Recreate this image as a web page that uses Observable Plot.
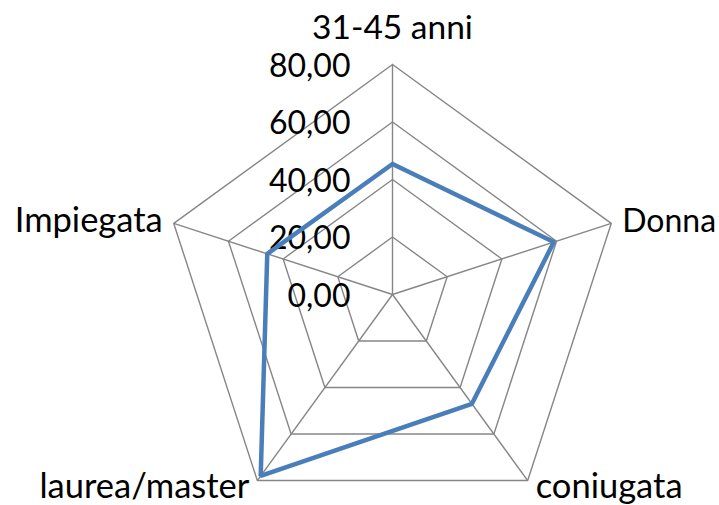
<!DOCTYPE html>
<html>
<head>
<meta charset="utf-8">
<script src="https://cdn.jsdelivr.net/npm/d3@7"></script>
<script src="https://cdn.jsdelivr.net/npm/@observablehq/plot@0.6"></script>
<style>
  html, body { margin: 0; padding: 0; background: #ffffff; }
  #chart svg { display: block; }
</style>
</head>
<body>
<div id="chart"></div>
<script>
// ---- data ----
const categories = ["31-45 anni", "Donna", "coniugata", "laurea/master", "Impiegata"];
const values = [45.4, 59, 47, 78, 45.8];
const tickValues = [0, 20, 40, 60, 80];
const tickLabels = ["0,00", "20,00", "40,00", "60,00", "80,00"];

// ---- geometry helpers (polar -> cartesian in data units) ----
const n = categories.length;
const maxV = 80;
const ang = i => (i * 2 * Math.PI) / n;
const px = (i, r) => r * Math.sin(ang(i));
const py = (i, r) => r * Math.cos(ang(i));

// grid polygons
const gridRings = tickValues.filter(t => t > 0).flatMap(t =>
  d3.range(n + 1).map(k => ({ level: t, x: px(k % n, t), y: py(k % n, t) }))
);
// spokes
const spokes = categories.map((c, i) => ({ x1: 0, y1: 0, x2: px(i, maxV), y2: py(i, maxV) }));
// series
const series = d3.range(n + 1).map(k => ({ name: categories[k % n], x: px(k % n, values[k % n]), y: py(k % n, values[k % n]) }));
// tick labels along top axis
const tickData = tickValues.map((t, i) => ({ x: 0, y: t, label: tickLabels[i] }));
// category labels
const catData = categories.map((c, i) => ({ name: c, i, x: px(i, maxV), y: py(i, maxV) }));

const font = "Lato, 'Open Sans', sans-serif";
const labelStyle = [
  { textAnchor: "middle", dx: 0, dy: -26, size: 33.5 },
  { textAnchor: "start", dx: 11, dy: 9, size: 32 },
  { textAnchor: "start", dx: 8, dy: 17, size: 34.5 },
  { textAnchor: "end", dx: -8, dy: 17, size: 34.5 },
  { textAnchor: "end", dx: -11, dy: 9, size: 34.5 }
];

const W = 719, H = 505;
const cx = 392, cy = 294, k = 230 / maxV;

const chart = Plot.plot({
  width: W,
  height: H,
  margin: 0,
  x: { type: "linear", domain: [-cx / k, (W - cx) / k], range: [0, W], axis: null },
  y: { type: "linear", domain: [-(H - cy) / k, cy / k], range: [H, 0], axis: null },
  style: { fontFamily: font, background: "#ffffff", overflow: "visible" },
  marks: [
    Plot.line(gridRings, { x: "x", y: "y", z: "level", stroke: "#868686", strokeWidth: 1.4 }),
    Plot.link(spokes, { x1: "x1", y1: "y1", x2: "x2", y2: "y2", stroke: "#868686", strokeWidth: 1.4 }),
    Plot.text(tickData, {
      x: "x", y: "y", text: "label", textAnchor: "end", lineAnchor: "bottom",
      dx: -42, dy: 12, fontSize: 32, fill: "#000000", fontFamily: font
    }),
    ...catData.map((d, i) => Plot.text([d], {
      x: "x", y: "y", text: "name", lineAnchor: "bottom",
      textAnchor: labelStyle[i].textAnchor, dx: labelStyle[i].dx, dy: labelStyle[i].dy,
      fontSize: labelStyle[i].size, fill: "#000000", fontFamily: font
    })),
    Plot.line(series, { x: "x", y: "y", stroke: "#4a7ebb", strokeWidth: 4.5, strokeLinejoin: "miter", curve: "linear" })
  ]
});
document.getElementById("chart").appendChild(chart);
</script>
</body>
</html>
